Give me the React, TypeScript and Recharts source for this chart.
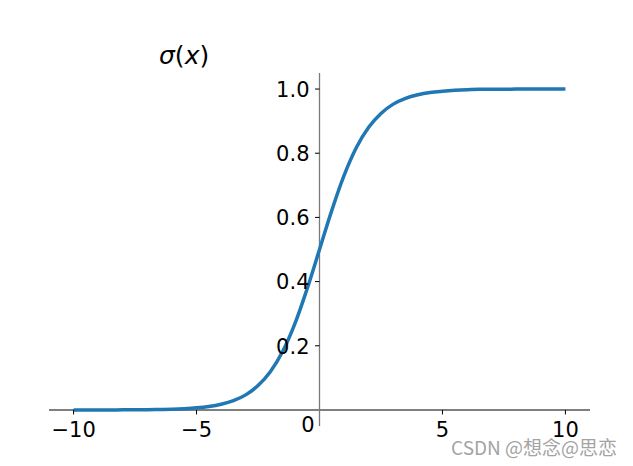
import { LineChart, Line, XAxis, YAxis, ReferenceLine, ReferenceDot } from 'recharts';

// values, x step 0.5
const xs = [
  -10, -9.5, -9, -8.5, -8, -7.5, -7, -6.5, -6, -5.5, -5, -4.5, -4, -3.5, -3, -2.5, -2, -1.5, -1, -0.5,
  0, 0.5, 1, 1.5, 2, 2.5, 3, 3.5, 4, 4.5, 5, 5.5, 6, 6.5, 7, 7.5, 8, 8.5, 9, 9.5, 10,
];
const sigma = [
  0.0, 0.0001, 0.0001, 0.0002, 0.0003, 0.0006, 0.0009, 0.0015, 0.0025, 0.0041, 0.0067, 0.011, 0.018,
  0.029, 0.047, 0.076, 0.119, 0.182, 0.269, 0.378, 0.5, 0.622, 0.731, 0.818, 0.881, 0.924, 0.953,
  0.971, 0.982, 0.989, 0.993, 0.996, 0.998, 0.999, 0.999, 0.999, 1.0, 1.0, 1.0, 1.0, 1.0,
];
const xTicks = [-10, -5, 5, 10];
const xTickLabels = ['\u221210', '\u22125', '5', '10'];
const yTicks = [0.2, 0.4, 0.6, 0.8, 1.0];
const yTickLabels = ['0.2', '0.4', '0.6', '0.8', '1.0'];

const data = xs.map((x, i) => ({ x, y: sigma[i] }));

const FONT = '"DejaVu Sans", sans-serif';

const XTick = (label: string) => (props: any) => (
  <g>
    <line x1={props.cx} y1={props.cy} x2={props.cx} y2={props.cy + 4.5} stroke="#000" strokeWidth={1} />
    <text x={props.cx} y={props.cy + 27} textAnchor="middle" fontSize={21} fontFamily={FONT} fill="#000">
      {label}
    </text>
  </g>
);

const YTick = (label: string) => (props: any) => (
  <g>
    <line x1={props.cx - 4.5} y1={props.cy} x2={props.cx} y2={props.cy} stroke="#000" strokeWidth={1} />
    <text x={props.cx - 10} y={props.cy + 7.8} textAnchor="end" fontSize={21} fontFamily={FONT} fill="#000">
      {label}
    </text>
  </g>
);

const ZeroLabel = (props: any) => (
  <text x={props.cx - 11.5} y={props.cy + 22.5} textAnchor="middle" fontSize={21} fontFamily={FONT} fill="#000">
    0
  </text>
);

export default function App() {
  return (
    <div style={{ position: 'absolute', left: 0, top: 0, width: 633, height: 466, background: '#fff' }}>
      <LineChart width={633} height={466} data={data} margin={{ top: 73, right: 43, left: 49, bottom: 40 }}>
        <XAxis dataKey="x" type="number" domain={[-11, 11]} hide />
        <YAxis type="number" domain={[-0.05, 1.05]} hide />
        <ReferenceLine y={0} stroke="#000" strokeWidth={1.1} />
        <ReferenceLine x={0} stroke="#7a7a7a" strokeWidth={1.3} />
        <Line
          type="monotone"
          dataKey="y"
          stroke="#1f77b4"
          strokeWidth={3.5}
          dot={false}
          isAnimationActive={false}
        />
        {xTicks.map((t, i) => (
          <ReferenceDot key={'x' + t} x={t} y={0} shape={XTick(xTickLabels[i])} />
        ))}
        {yTicks.map((t, i) => (
          <ReferenceDot key={'y' + t} x={0} y={t} shape={YTick(yTickLabels[i])} />
        ))}
        <ReferenceDot x={0} y={0} shape={ZeroLabel} />
      </LineChart>
      <div
        style={{
          position: 'absolute',
          left: 159,
          top: 43,
          fontSize: 25,
          lineHeight: '25px',
          fontFamily: FONT,
          color: '#000',
          whiteSpace: 'nowrap',
        }}
      >
        <i>σ</i>(<i>x</i>)
      </div>
      <div
        style={{
          position: 'absolute',
          right: 16,
          top: 437,
          fontSize: 19,
          lineHeight: '19px',
          fontFamily: '"Noto Sans CJK SC", "Noto Sans", sans-serif',
          color: '#a3a3a3',
          whiteSpace: 'nowrap',
        }}
      >
        CSDN @想念@思恋
      </div>
    </div>
  );
}
